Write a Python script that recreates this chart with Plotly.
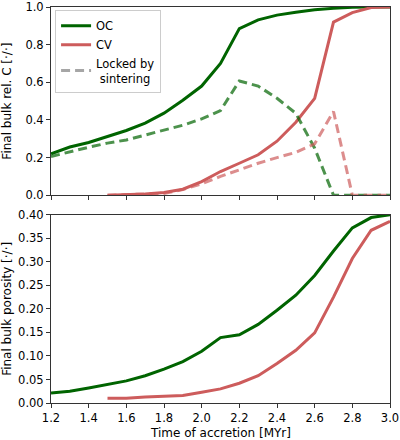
import plotly.graph_objects as go
from plotly.subplots import make_subplots

time_oc = [1.2, 1.3, 1.4, 1.5, 1.6, 1.7, 1.8, 1.9, 2.0, 2.1, 2.2, 2.3, 2.4, 2.5, 2.6, 2.7, 2.8, 2.9, 3.0]
time_cv = [1.5, 1.6, 1.7, 1.8, 1.9, 2.0, 2.1, 2.2, 2.3, 2.4, 2.5, 2.6, 2.7, 2.8, 2.9, 3.0]

oc_c = [0.22, 0.256, 0.28, 0.31, 0.344, 0.383, 0.436, 0.505, 0.58, 0.70, 0.885, 0.932, 0.957, 0.972, 0.985, 0.993, 0.999, 1.0, 1.0]
oc_locked = [0.206, 0.232, 0.255, 0.277, 0.294, 0.32, 0.344, 0.372, 0.406, 0.45, 0.607, 0.58, 0.515, 0.435, 0.25, 0.0, 0.0, 0.0, 0.0]
cv_c = [0.0, 0.003, 0.007, 0.015, 0.032, 0.073, 0.126, 0.17, 0.215, 0.287, 0.388, 0.515, 0.92, 0.97, 0.997, 1.0]
cv_locked = [0.0, 0.002, 0.005, 0.01, 0.03, 0.061, 0.1, 0.135, 0.17, 0.2, 0.228, 0.273, 0.445, 0.0, 0.0, 0.0]

oc_por = [0.021, 0.025, 0.032, 0.039, 0.047, 0.058, 0.072, 0.088, 0.110, 0.139, 0.145, 0.167, 0.197, 0.229, 0.271, 0.323, 0.372, 0.394, 0.40]
cv_por = [0.010, 0.010, 0.0125, 0.0146, 0.016, 0.023, 0.030, 0.042, 0.058, 0.084, 0.112, 0.149, 0.225, 0.307, 0.367, 0.386]

x_ticks = [1.2, 1.4, 1.6, 1.8, 2.0, 2.2, 2.4, 2.6, 2.8, 3.0]

GREEN = "#006400"
RED = "#cd5c5c"
GREEN_A = "rgba(0,100,0,0.7)"
RED_A = "rgba(205,92,92,0.7)"
LW = 3
FONT = "DejaVu Sans"

fig = make_subplots(rows=2, cols=1, shared_xaxes=False, vertical_spacing=0.0492)

fig.add_trace(go.Scatter(x=time_oc, y=oc_c, mode="lines", name="OC",
                         line=dict(color=GREEN, width=LW)), row=1, col=1)
fig.add_trace(go.Scatter(x=time_cv, y=cv_c, mode="lines", name="CV",
                         line=dict(color=RED, width=LW)), row=1, col=1)
fig.add_trace(go.Scatter(x=[None], y=[None], mode="lines", name="Locked by<br> sintering",
                         line=dict(color="rgba(128,128,128,0.7)", width=LW, dash="9px,5px")), row=1, col=1)
fig.add_trace(go.Scatter(x=time_oc, y=oc_locked, mode="lines", showlegend=False,
                         line=dict(color=GREEN_A, width=LW, dash="9px,5px")), row=1, col=1)
fig.add_trace(go.Scatter(x=time_cv, y=cv_locked, mode="lines", showlegend=False,
                         line=dict(color=RED_A, width=LW, dash="9px,5px")), row=1, col=1)

fig.add_trace(go.Scatter(x=time_oc, y=oc_por, mode="lines", showlegend=False,
                         line=dict(color=GREEN, width=LW)), row=2, col=1)
fig.add_trace(go.Scatter(x=time_cv, y=cv_por, mode="lines", showlegend=False,
                         line=dict(color=RED, width=LW)), row=2, col=1)

axis_common = dict(showgrid=False, zeroline=False, showline=True, linecolor="#333",
                   linewidth=1, mirror=True, ticks="outside", ticklen=4, tickcolor="#333",
                   automargin=False,
                   tickfont=dict(family=FONT, size=11.5, color="black"))
title_font = dict(family=FONT, size=12, color="black")

fig.update_xaxes(range=[1.2, 3.0], tickvals=x_ticks, tickformat=".1f", **axis_common)
fig.update_xaxes(showticklabels=False, row=1, col=1)

fig.update_yaxes(range=[0, 1.0], tickvals=[0, 0.2, 0.4, 0.6, 0.8, 1.0], tickformat=".1f",
                 title=dict(text="Final bulk rel. C [·/·]", font=title_font),
                 row=1, col=1, **axis_common)
fig.update_yaxes(range=[0, 0.4], tickvals=[0, 0.05, 0.1, 0.15, 0.2, 0.25, 0.3, 0.35, 0.4], tickformat=".2f",
                 title=dict(text="Final bulk porosity [·/·]", font=title_font),
                 row=2, col=1, **axis_common)

fig.add_annotation(text="Time of accretion [MYr]", xref="paper", yref="paper",
                   x=0.5, y=-22 / 396, xanchor="center", yanchor="top", showarrow=False,
                   borderpad=0, font=title_font)

fig.update_layout(
    width=400, height=440,
    margin=dict(l=51, r=10, t=7, b=37),
    plot_bgcolor="white", paper_bgcolor="white",
    font=dict(family=FONT, size=12, color="black"),
    legend=dict(x=0.012, y=0.992, xanchor="left", yanchor="top",
                bgcolor="rgba(255,255,255,0.8)", bordercolor="#cccccc", borderwidth=1,
                font=dict(family=FONT, size=11.5, color="black"),
                tracegroupgap=0, itemwidth=30),
)

fig.write_html("out.html")
